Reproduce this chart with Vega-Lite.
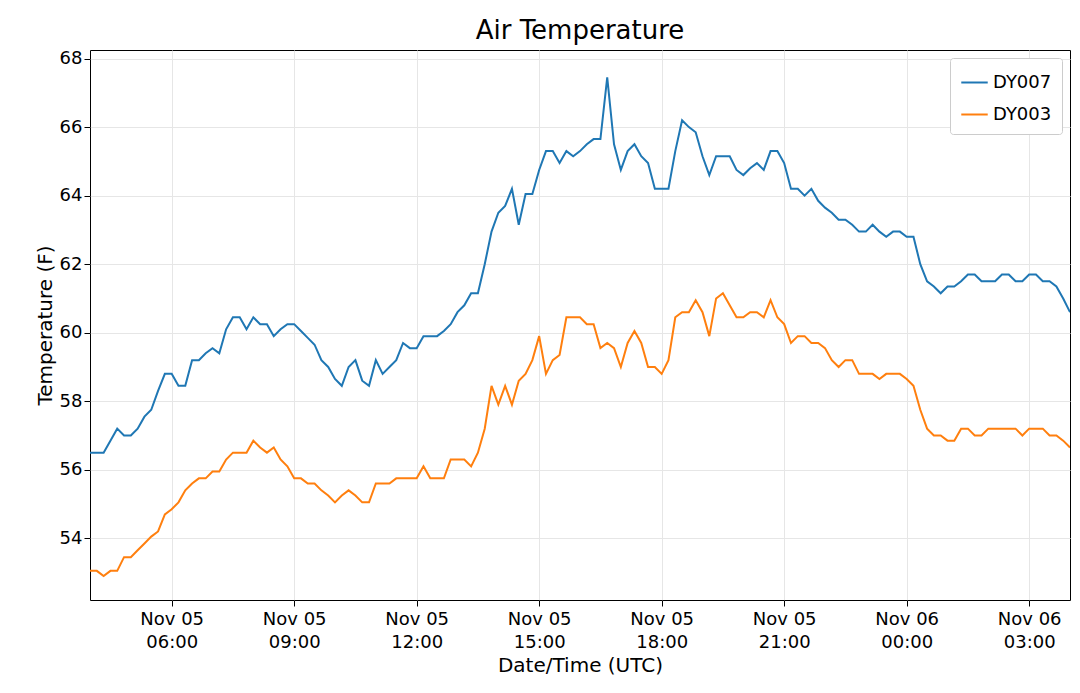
{
  "$schema": "https://vega.github.io/schema/vega-lite/v6.json",
  "autosize": "none",
  "width": 980,
  "height": 550,
  "padding": {"left": 90, "top": 50, "right": 10, "bottom": 93},
  "background": "white",
  "title": {"text": "Air Temperature", "fontSize": 26, "font": "DejaVu Sans", "fontWeight": "normal", "offset": 6},
  "config": {
    "font": "DejaVu Sans",
    "view": {"stroke": "#000", "strokeWidth": 1}
  },
  "data": {"values": [
    {"t":"2019-11-05T04:00Z","DY007":56.5,"DY003":53.05},
    {"t":"2019-11-05T04:10Z","DY007":56.5,"DY003":53.05},
    {"t":"2019-11-05T04:20Z","DY007":56.5,"DY003":52.9},
    {"t":"2019-11-05T04:30Z","DY007":56.85,"DY003":53.05},
    {"t":"2019-11-05T04:40Z","DY007":57.2,"DY003":53.05},
    {"t":"2019-11-05T04:50Z","DY007":57.0,"DY003":53.45},
    {"t":"2019-11-05T05:00Z","DY007":57.0,"DY003":53.45},
    {"t":"2019-11-05T05:10Z","DY007":57.2,"DY003":53.65},
    {"t":"2019-11-05T05:20Z","DY007":57.55,"DY003":53.85},
    {"t":"2019-11-05T05:30Z","DY007":57.75,"DY003":54.05},
    {"t":"2019-11-05T05:40Z","DY007":58.3,"DY003":54.2},
    {"t":"2019-11-05T05:50Z","DY007":58.8,"DY003":54.7},
    {"t":"2019-11-05T06:00Z","DY007":58.8,"DY003":54.85},
    {"t":"2019-11-05T06:10Z","DY007":58.45,"DY003":55.05},
    {"t":"2019-11-05T06:20Z","DY007":58.45,"DY003":55.4},
    {"t":"2019-11-05T06:30Z","DY007":59.2,"DY003":55.6},
    {"t":"2019-11-05T06:40Z","DY007":59.2,"DY003":55.75},
    {"t":"2019-11-05T06:50Z","DY007":59.4,"DY003":55.75},
    {"t":"2019-11-05T07:00Z","DY007":59.55,"DY003":55.95},
    {"t":"2019-11-05T07:10Z","DY007":59.4,"DY003":55.95},
    {"t":"2019-11-05T07:20Z","DY007":60.1,"DY003":56.3},
    {"t":"2019-11-05T07:30Z","DY007":60.45,"DY003":56.5},
    {"t":"2019-11-05T07:40Z","DY007":60.45,"DY003":56.5},
    {"t":"2019-11-05T07:50Z","DY007":60.1,"DY003":56.5},
    {"t":"2019-11-05T08:00Z","DY007":60.45,"DY003":56.85},
    {"t":"2019-11-05T08:10Z","DY007":60.25,"DY003":56.65},
    {"t":"2019-11-05T08:20Z","DY007":60.25,"DY003":56.5},
    {"t":"2019-11-05T08:30Z","DY007":59.9,"DY003":56.65},
    {"t":"2019-11-05T08:40Z","DY007":60.1,"DY003":56.3},
    {"t":"2019-11-05T08:50Z","DY007":60.25,"DY003":56.1},
    {"t":"2019-11-05T09:00Z","DY007":60.25,"DY003":55.75},
    {"t":"2019-11-05T09:10Z","DY007":60.05,"DY003":55.75},
    {"t":"2019-11-05T09:20Z","DY007":59.85,"DY003":55.6},
    {"t":"2019-11-05T09:30Z","DY007":59.65,"DY003":55.6},
    {"t":"2019-11-05T09:40Z","DY007":59.2,"DY003":55.4},
    {"t":"2019-11-05T09:50Z","DY007":59.0,"DY003":55.25},
    {"t":"2019-11-05T10:00Z","DY007":58.65,"DY003":55.05},
    {"t":"2019-11-05T10:10Z","DY007":58.45,"DY003":55.25},
    {"t":"2019-11-05T10:20Z","DY007":59.0,"DY003":55.4},
    {"t":"2019-11-05T10:30Z","DY007":59.2,"DY003":55.25},
    {"t":"2019-11-05T10:40Z","DY007":58.6,"DY003":55.05},
    {"t":"2019-11-05T10:50Z","DY007":58.45,"DY003":55.05},
    {"t":"2019-11-05T11:00Z","DY007":59.2,"DY003":55.6},
    {"t":"2019-11-05T11:10Z","DY007":58.8,"DY003":55.6},
    {"t":"2019-11-05T11:20Z","DY007":59.0,"DY003":55.6},
    {"t":"2019-11-05T11:30Z","DY007":59.2,"DY003":55.75},
    {"t":"2019-11-05T11:40Z","DY007":59.7,"DY003":55.75},
    {"t":"2019-11-05T11:50Z","DY007":59.55,"DY003":55.75},
    {"t":"2019-11-05T12:00Z","DY007":59.55,"DY003":55.75},
    {"t":"2019-11-05T12:10Z","DY007":59.9,"DY003":56.1},
    {"t":"2019-11-05T12:20Z","DY007":59.9,"DY003":55.75},
    {"t":"2019-11-05T12:30Z","DY007":59.9,"DY003":55.75},
    {"t":"2019-11-05T12:40Z","DY007":60.05,"DY003":55.75},
    {"t":"2019-11-05T12:50Z","DY007":60.25,"DY003":56.3},
    {"t":"2019-11-05T13:00Z","DY007":60.6,"DY003":56.3},
    {"t":"2019-11-05T13:10Z","DY007":60.8,"DY003":56.3},
    {"t":"2019-11-05T13:20Z","DY007":61.15,"DY003":56.1},
    {"t":"2019-11-05T13:30Z","DY007":61.15,"DY003":56.5},
    {"t":"2019-11-05T13:40Z","DY007":62.0,"DY003":57.2},
    {"t":"2019-11-05T13:50Z","DY007":62.95,"DY003":58.45},
    {"t":"2019-11-05T14:00Z","DY007":63.5,"DY003":57.9},
    {"t":"2019-11-05T14:10Z","DY007":63.7,"DY003":58.45},
    {"t":"2019-11-05T14:20Z","DY007":64.2,"DY003":57.9},
    {"t":"2019-11-05T14:30Z","DY007":63.15,"DY003":58.6},
    {"t":"2019-11-05T14:40Z","DY007":64.05,"DY003":58.8},
    {"t":"2019-11-05T14:50Z","DY007":64.05,"DY003":59.2},
    {"t":"2019-11-05T15:00Z","DY007":64.75,"DY003":59.9},
    {"t":"2019-11-05T15:10Z","DY007":65.3,"DY003":58.8},
    {"t":"2019-11-05T15:20Z","DY007":65.3,"DY003":59.2},
    {"t":"2019-11-05T15:30Z","DY007":64.95,"DY003":59.35},
    {"t":"2019-11-05T15:40Z","DY007":65.3,"DY003":60.45},
    {"t":"2019-11-05T15:50Z","DY007":65.15,"DY003":60.45},
    {"t":"2019-11-05T16:00Z","DY007":65.3,"DY003":60.45},
    {"t":"2019-11-05T16:10Z","DY007":65.5,"DY003":60.25},
    {"t":"2019-11-05T16:20Z","DY007":65.65,"DY003":60.25},
    {"t":"2019-11-05T16:30Z","DY007":65.65,"DY003":59.55},
    {"t":"2019-11-05T16:40Z","DY007":67.45,"DY003":59.7},
    {"t":"2019-11-05T16:50Z","DY007":65.5,"DY003":59.55},
    {"t":"2019-11-05T17:00Z","DY007":64.75,"DY003":59.0},
    {"t":"2019-11-05T17:10Z","DY007":65.3,"DY003":59.7},
    {"t":"2019-11-05T17:20Z","DY007":65.5,"DY003":60.05},
    {"t":"2019-11-05T17:30Z","DY007":65.15,"DY003":59.7},
    {"t":"2019-11-05T17:40Z","DY007":64.95,"DY003":59.0},
    {"t":"2019-11-05T17:50Z","DY007":64.2,"DY003":59.0},
    {"t":"2019-11-05T18:00Z","DY007":64.2,"DY003":58.8},
    {"t":"2019-11-05T18:10Z","DY007":64.2,"DY003":59.2},
    {"t":"2019-11-05T18:20Z","DY007":65.3,"DY003":60.45},
    {"t":"2019-11-05T18:30Z","DY007":66.2,"DY003":60.6},
    {"t":"2019-11-05T18:40Z","DY007":66.0,"DY003":60.6},
    {"t":"2019-11-05T18:50Z","DY007":65.85,"DY003":60.95},
    {"t":"2019-11-05T19:00Z","DY007":65.15,"DY003":60.6},
    {"t":"2019-11-05T19:10Z","DY007":64.6,"DY003":59.9},
    {"t":"2019-11-05T19:20Z","DY007":65.15,"DY003":61.0},
    {"t":"2019-11-05T19:30Z","DY007":65.15,"DY003":61.15},
    {"t":"2019-11-05T19:40Z","DY007":65.15,"DY003":60.8},
    {"t":"2019-11-05T19:50Z","DY007":64.75,"DY003":60.45},
    {"t":"2019-11-05T20:00Z","DY007":64.6,"DY003":60.45},
    {"t":"2019-11-05T20:10Z","DY007":64.8,"DY003":60.6},
    {"t":"2019-11-05T20:20Z","DY007":64.95,"DY003":60.6},
    {"t":"2019-11-05T20:30Z","DY007":64.75,"DY003":60.45},
    {"t":"2019-11-05T20:40Z","DY007":65.3,"DY003":60.95},
    {"t":"2019-11-05T20:50Z","DY007":65.3,"DY003":60.45},
    {"t":"2019-11-05T21:00Z","DY007":64.95,"DY003":60.25},
    {"t":"2019-11-05T21:10Z","DY007":64.2,"DY003":59.7},
    {"t":"2019-11-05T21:20Z","DY007":64.2,"DY003":59.9},
    {"t":"2019-11-05T21:30Z","DY007":64.0,"DY003":59.9},
    {"t":"2019-11-05T21:40Z","DY007":64.2,"DY003":59.7},
    {"t":"2019-11-05T21:50Z","DY007":63.85,"DY003":59.7},
    {"t":"2019-11-05T22:00Z","DY007":63.65,"DY003":59.55},
    {"t":"2019-11-05T22:10Z","DY007":63.5,"DY003":59.2},
    {"t":"2019-11-05T22:20Z","DY007":63.3,"DY003":59.0},
    {"t":"2019-11-05T22:30Z","DY007":63.3,"DY003":59.2},
    {"t":"2019-11-05T22:40Z","DY007":63.15,"DY003":59.2},
    {"t":"2019-11-05T22:50Z","DY007":62.95,"DY003":58.8},
    {"t":"2019-11-05T23:00Z","DY007":62.95,"DY003":58.8},
    {"t":"2019-11-05T23:10Z","DY007":63.15,"DY003":58.8},
    {"t":"2019-11-05T23:20Z","DY007":62.95,"DY003":58.65},
    {"t":"2019-11-05T23:30Z","DY007":62.8,"DY003":58.8},
    {"t":"2019-11-05T23:40Z","DY007":62.95,"DY003":58.8},
    {"t":"2019-11-05T23:50Z","DY007":62.95,"DY003":58.8},
    {"t":"2019-11-06T00:00Z","DY007":62.8,"DY003":58.65},
    {"t":"2019-11-06T00:10Z","DY007":62.8,"DY003":58.45},
    {"t":"2019-11-06T00:20Z","DY007":62.0,"DY003":57.75},
    {"t":"2019-11-06T00:30Z","DY007":61.5,"DY003":57.2},
    {"t":"2019-11-06T00:40Z","DY007":61.35,"DY003":57.0},
    {"t":"2019-11-06T00:50Z","DY007":61.15,"DY003":57.0},
    {"t":"2019-11-06T01:00Z","DY007":61.35,"DY003":56.85},
    {"t":"2019-11-06T01:10Z","DY007":61.35,"DY003":56.85},
    {"t":"2019-11-06T01:20Z","DY007":61.5,"DY003":57.2},
    {"t":"2019-11-06T01:30Z","DY007":61.7,"DY003":57.2},
    {"t":"2019-11-06T01:40Z","DY007":61.7,"DY003":57.0},
    {"t":"2019-11-06T01:50Z","DY007":61.5,"DY003":57.0},
    {"t":"2019-11-06T02:00Z","DY007":61.5,"DY003":57.2},
    {"t":"2019-11-06T02:10Z","DY007":61.5,"DY003":57.2},
    {"t":"2019-11-06T02:20Z","DY007":61.7,"DY003":57.2},
    {"t":"2019-11-06T02:30Z","DY007":61.7,"DY003":57.2},
    {"t":"2019-11-06T02:40Z","DY007":61.5,"DY003":57.2},
    {"t":"2019-11-06T02:50Z","DY007":61.5,"DY003":57.0},
    {"t":"2019-11-06T03:00Z","DY007":61.7,"DY003":57.2},
    {"t":"2019-11-06T03:10Z","DY007":61.7,"DY003":57.2},
    {"t":"2019-11-06T03:20Z","DY007":61.5,"DY003":57.2},
    {"t":"2019-11-06T03:30Z","DY007":61.5,"DY003":57.0},
    {"t":"2019-11-06T03:40Z","DY007":61.35,"DY003":57.0},
    {"t":"2019-11-06T03:50Z","DY007":61.0,"DY003":56.85},
    {"t":"2019-11-06T04:00Z","DY007":60.6,"DY003":56.65}
  ]},
  "transform": [{"fold": ["DY007", "DY003"], "as": ["station", "temp"]}],
  "mark": {"type": "line", "strokeWidth": 2, "clip": true},
  "encoding": {
    "x": {
      "field": "t",
      "type": "temporal",
      "title": "Date/Time (UTC)",
      "scale": {"type": "utc", "domain": ["2019-11-05T04:00Z", "2019-11-06T04:00Z"]},
      "axis": {
        "values": ["2019-11-05T06:00Z", "2019-11-05T09:00Z", "2019-11-05T12:00Z", "2019-11-05T15:00Z", "2019-11-05T18:00Z", "2019-11-05T21:00Z", "2019-11-06T00:00Z", "2019-11-06T03:00Z"],
        "labelExpr": "[utcFormat(datum.value, '%b %d'), utcFormat(datum.value, '%H:%M')]",
        "labelFontSize": 18,
        "labelColor": "#000",
        "labelLineHeight": 23,
        "titleFontSize": 20,
        "titleFontWeight": "normal",
        "titleColor": "#000",
        "titlePadding": 4,
        "gridColor": "#e6e6e6",
        "tickColor": "#000",
        "tickSize": 6,
        "domain": false,
        "labelPadding": 4
      }
    },
    "y": {
      "field": "temp",
      "type": "quantitative",
      "title": "Temperature (F)",
      "scale": {"domain": [52.2, 68.25], "zero": false, "nice": false},
      "axis": {
        "values": [54, 56, 58, 60, 62, 64, 66, 68],
        "labelFontSize": 18,
        "labelColor": "#000",
        "titleFontSize": 20,
        "titleFontWeight": "normal",
        "titleColor": "#000",
        "gridColor": "#e6e6e6",
        "tickColor": "#000",
        "tickSize": 6,
        "domain": false
      }
    },
    "color": {
      "field": "station",
      "type": "nominal",
      "sort": ["DY007", "DY003"],
      "title": null,
      "scale": {"domain": ["DY007", "DY003"], "range": ["#1f77b4", "#ff7f0e"]},
      "legend": {
        "orient": "top-right",
        "symbolType": "stroke",
        "symbolSize": 700,
        "symbolStrokeWidth": 2,
        "labelFontSize": 18,
        "labelColor": "#000",
        "strokeColor": "#cccccc",
        "fillColor": "white",
        "padding": 10,
        "cornerRadius": 3,
        "rowPadding": 8,
        "offset": 8
      }
    }
  }
}
